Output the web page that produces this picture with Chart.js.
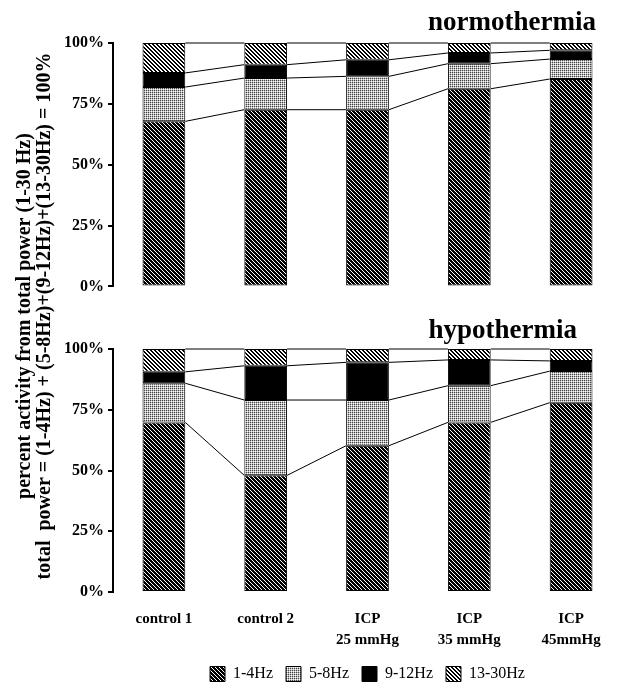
<!DOCTYPE html>
<html>
<head>
<meta charset="utf-8">
<script src="https://cdn.jsdelivr.net/npm/chart.js@4.4.1/dist/chart.umd.min.js"></script>
<style>
  html, body { margin: 0; padding: 0; background: #fff; }
  body { width: 619px; height: 688px; overflow: hidden; position: relative; }
  canvas { position: absolute; left: 0; }
  #normo { top: 0; }
  #hypo { top: 300px; }
  #ytitle { top: 0; }
</style>
</head>
<body>
<canvas id="normo" width="625" height="300"></canvas>
<canvas id="hypo" width="625" height="392"></canvas>
<canvas id="ytitle" width="60" height="688"></canvas>
<script>
// conditions along the x axis
const categories = ["control 1", "control 2", ["ICP", "25 mmHg"], ["ICP", "35 mmHg"], ["ICP", "45mmHg"]];
const bandLabels = ["1-4Hz", "5-8Hz", "9-12Hz", "13-30Hz"];
const yTicks = [0, 25, 50, 75, 100];
const yTitle = ["percent activity from total power (1-30 Hz)",
                "total  power = (1-4Hz) + (5-8Hz)+(9-12Hz)+(13-30Hz) = 100%"];

// normothermia, % of total power per band
const normoDelta = [67.8, 72.6, 72.6, 81.2, 85.2];
const normoTheta = [14.1, 13.0, 13.7, 10.3, 8.2];
const normoAlpha = [5.8, 5.5, 6.8, 4.4, 3.6];
const normoBeta  = [12.3, 8.9, 6.9, 4.1, 3.0];

// hypothermia
const hypoDelta = [69.8, 48.0, 60.2, 69.8, 77.9];
const hypoTheta = [16.1, 31.0, 18.8, 15.1, 13.0];
const hypoAlpha = [4.7, 14.1, 15.5, 10.6, 4.2];
const hypoBeta  = [9.4, 6.9, 5.5, 4.5, 4.9];

const SERIF = '"Liberation Serif", "Times New Roman", serif';

// shared y title, written sideways across both panels
(function drawYTitle() {
  const ctx = document.getElementById("ytitle").getContext("2d");
  ctx.save();
  ctx.translate(35, 316);
  ctx.rotate(-Math.PI / 2);
  ctx.font = "bold 20px " + SERIF;
  ctx.fillStyle = "#000";
  ctx.textAlign = "center";
  ctx.textBaseline = "middle";
  ctx.fillText(yTitle[0], 0, -10);
  ctx.fillText(yTitle[1], 0, 10);
  ctx.restore();
})();

// small tiles for the hatch / stipple fills
function makePattern(size, paint) {
  const c = document.createElement("canvas");
  c.width = size; c.height = size;
  const g = c.getContext("2d");
  paint(g, size);
  return g.createPattern(c, "repeat");
}

const darkHatch = makePattern(4, (g, n) => {
  g.fillStyle = "#000"; g.fillRect(0, 0, n, n);
  g.fillStyle = "#fff";
  for (let i = 0; i < n; i++) g.fillRect(i, i, 1, 1);
});
const lightHatch = makePattern(4, (g, n) => {
  g.fillStyle = "#fff"; g.fillRect(0, 0, n, n);
  g.fillStyle = "#000";
  for (let i = 0; i < n; i++) { g.fillRect(i, i, 1, 1); g.fillRect((i + 1) % n, i, 1, 1); }
});
const stipple = makePattern(2, (g) => {
  g.fillStyle = "#fff"; g.fillRect(0, 0, 2, 2);
  g.fillStyle = "#444"; g.fillRect(0, 0, 1, 1);
  g.fillStyle = "#bbb"; g.fillRect(1, 0, 1, 1); g.fillRect(0, 1, 1, 1);
});
const fills = [darkHatch, stipple, "#000", lightHatch];

// lines joining the stack boundaries of neighbouring bars
const seriesLines = {
  id: "seriesLines",
  afterDatasetsDraw(chart) {
    const ctx = chart.ctx;
    const n = chart.data.labels.length;
    ctx.save();
    ctx.strokeStyle = "#000";
    ctx.lineWidth = 1;
    chart.data.datasets.forEach((ds, k) => {
      const bars = chart.getDatasetMeta(k).data;
      for (let i = 0; i < n - 1; i++) {
        const a = bars[i], b = bars[i + 1];
        ctx.beginPath();
        ctx.moveTo(a.x + a.width / 2, a.y);
        ctx.lineTo(b.x - b.width / 2, b.y);
        ctx.stroke();
      }
    });
    ctx.restore();
  }
};

// bold panel heading in the upper right
const panelTitle = {
  id: "panelTitle",
  afterDraw(chart, args, opts) {
    const ctx = chart.ctx;
    ctx.save();
    ctx.font = "bold 27px " + SERIF;
    ctx.fillStyle = "#000";
    ctx.textAlign = "right";
    ctx.textBaseline = "alphabetic";
    ctx.fillText(opts.text, opts.right, opts.baseline);
    ctx.restore();
  }
};

function datasets(series) {
  return series.map((data, k) => ({
    label: bandLabels[k],
    data: data,
    backgroundColor: fills[k],
    borderColor: "#000",
    borderWidth: 1,
    borderSkipped: false,
    barPercentage: 0.42,
    categoryPercentage: 1
  }));
}

function yScale() {
  return {
    stacked: true,
    min: 0,
    max: 100,
    afterBuildTicks: s => { s.ticks = yTicks.map(v => ({ value: v })); },
    afterFit: s => { s.width = 113; },
    ticks: {
      callback: v => v + "%",
      color: "#000",
      padding: 4,
      font: { family: SERIF, weight: "bold", size: 16 }
    },
    grid: { drawOnChartArea: false, color: "#000", lineWidth: 2, tickLength: 5 },
    border: { color: "#000", width: 2 }
  };
}

new Chart(document.getElementById("normo"), {
  type: "bar",
  data: { labels: categories, datasets: datasets([normoDelta, normoTheta, normoAlpha, normoBeta]) },
  options: {
    responsive: false,
    animation: false,
    layout: { padding: { top: 43, bottom: 13, left: 0, right: 3 } },
    scales: {
      x: { stacked: true, display: false },
      y: yScale()
    },
    plugins: {
      legend: { display: false },
      tooltip: { enabled: false },
      panelTitle: { text: "normothermia", right: 596, baseline: 30 }
    }
  },
  plugins: [seriesLines, panelTitle]
});

new Chart(document.getElementById("hypo"), {
  type: "bar",
  data: { labels: categories, datasets: datasets([hypoDelta, hypoTheta, hypoAlpha, hypoBeta]) },
  options: {
    responsive: false,
    animation: false,
    layout: { padding: { top: 49, bottom: 0, left: 0, right: 3 } },
    scales: {
      x: {
        stacked: true,
        afterFit: s => { s.height = 61; },
        grid: { display: false },
        border: { display: false },
        ticks: {
          color: "#000",
          padding: 9,
          maxRotation: 0,
          autoSkip: false,
          font: { family: SERIF, weight: "bold", size: 15, lineHeight: 1.4 }
        }
      },
      y: yScale()
    },
    plugins: {
      legend: {
        position: "bottom",
        fullSize: false,
        labels: {
          color: "#000",
          boxWidth: 15,
          boxHeight: 15,
          padding: 13,
          font: { family: SERIF, size: 16 }
        }
      },
      tooltip: { enabled: false },
      panelTitle: { text: "hypothermia", right: 577, baseline: 38 }
    }
  },
  plugins: [seriesLines, panelTitle]
});
</script>
</body>
</html>
